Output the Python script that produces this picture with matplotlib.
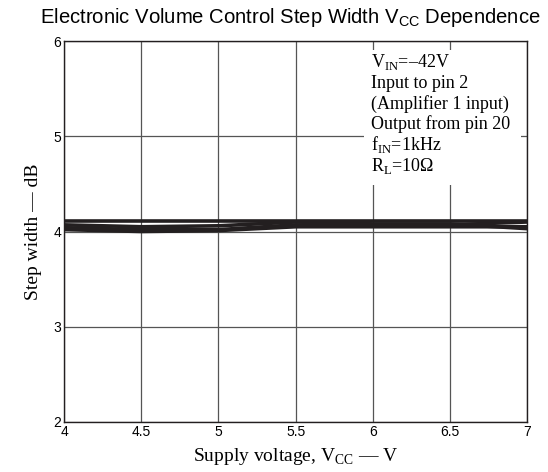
import matplotlib.pyplot as plt
import matplotlib.patches as mpatches

plt.rcParams['mathtext.fontset'] = 'custom'
plt.rcParams['mathtext.rm'] = 'Liberation Serif'
plt.rcParams['mathtext.sf'] = 'Liberation Sans'

vcc = [4.0, 4.5, 5.0, 5.5, 6.0, 6.5, 7.0]
step_a = [4.11, 4.11, 4.11, 4.11, 4.11, 4.11, 4.11]
step_b = [4.07, 4.05, 4.06, 4.10, 4.08, 4.08, 4.03]
step_c = [4.04, 4.02, 4.02, 4.07, 4.06, 4.07, 4.10]
step_d = [4.02, 4.00, 4.01, 4.05, 4.05, 4.05, 4.05]

notes = [r'V$_{\mathrm{IN}}$=–42V', 'Input to pin 2', '(Amplifier 1 input)',
         'Output from pin 20', r'f$_{\mathrm{IN}}$=1kHz', r'R$_{\mathrm{L}}$=10Ω']

fig = plt.figure(figsize=(5.48, 4.72), dpi=100)
ax = fig.add_axes([0.117, 0.106, 0.845, 0.807])

for s in [step_a, step_b, step_c, step_d]:
    ax.plot(vcc, s, color='#231f20', lw=2.6, solid_capstyle='butt', zorder=3)

ax.set_xlim(4, 7)
ax.set_ylim(2, 6)
ax.set_xticks([4, 4.5, 5, 5.5, 6, 6.5, 7])
ax.set_xticklabels(['4', '4.5', '5', '5.5', '6', '6.5', '7'])
ax.set_yticks([2, 3, 4, 5, 6])
ax.grid(True, color='#555555', lw=0.9)
ax.tick_params(length=0, labelsize=10, pad=2)
for lab in ax.get_xticklabels() + ax.get_yticklabels():
    lab.set_family('Liberation Sans')
for sp in ax.spines.values():
    sp.set_linewidth(1.0)
    sp.set_color('#231f20')

# white panel behind the condition notes
ax.add_patch(mpatches.Rectangle((0.648, 0.622), 0.339, 0.354, transform=ax.transAxes,
                                facecolor='white', edgecolor='none', zorder=2.5))
for i, t in enumerate(notes):
    ax.text(0.663, (422 - 67 - 20.8 * i) / 381, t, transform=ax.transAxes, fontsize=13,
            family='Liberation Serif', va='baseline', ha='left', zorder=4)

ax.set_xlabel(r'Supply voltage, V$_{\mathrm{CC}}$ — V', family='Liberation Serif',
              fontsize=14, labelpad=5)
ax.set_ylabel('Step width — dB', family='Liberation Serif', fontsize=14, labelpad=8)
fig.text(0.529, 0.962, r'Electronic Volume Control Step Width V$_{\mathsf{CC}}$ Dependence',
         family='Liberation Sans', fontsize=14.6, ha='center', va='center')

fig.savefig('out.png', dpi=100)
